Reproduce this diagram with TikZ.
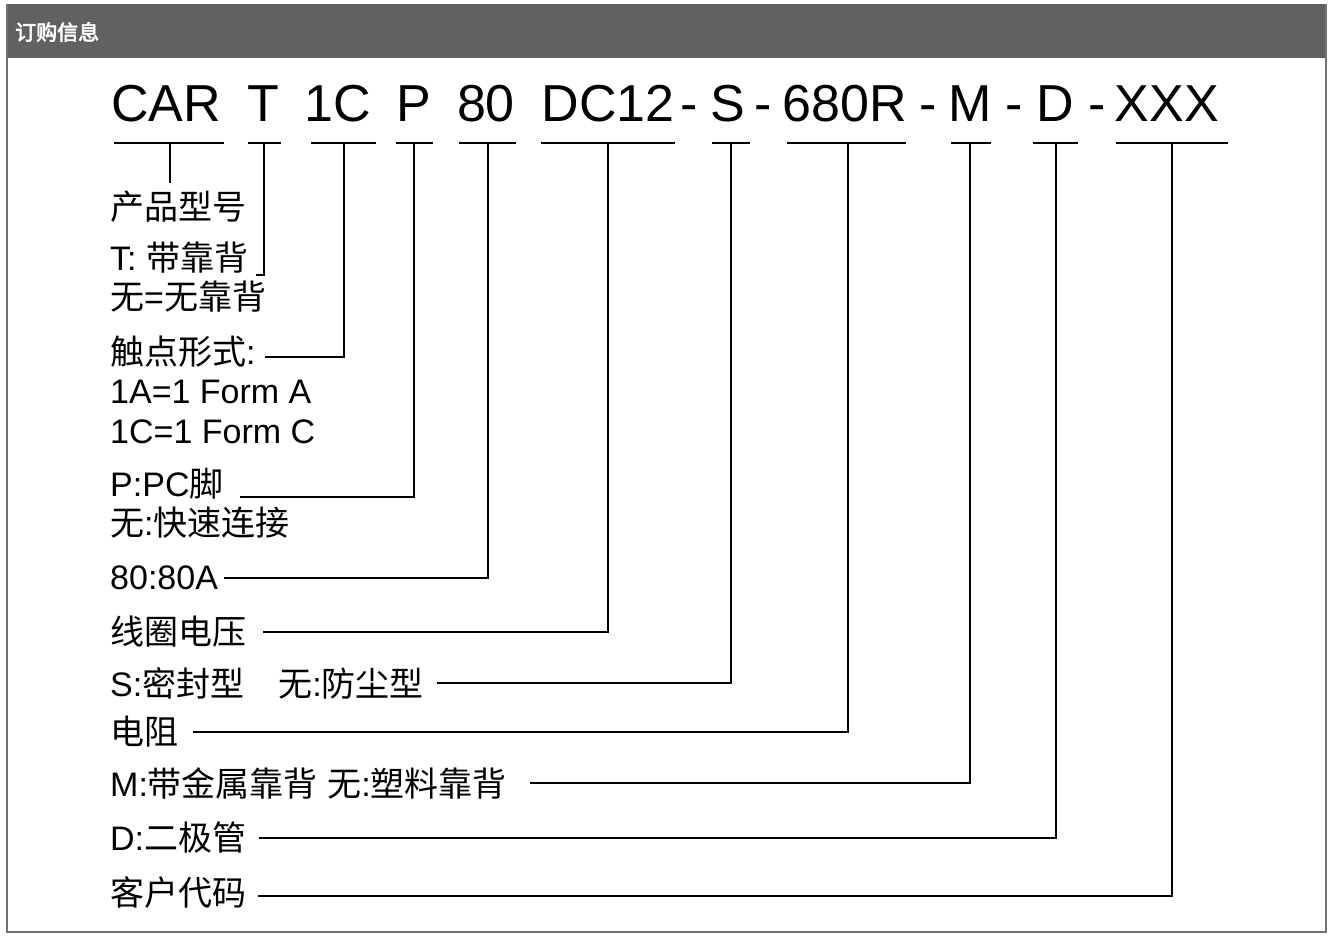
\documentclass[tikz,border=0pt]{standalone}
\usepackage{fontspec}
\setmainfont{Liberation Sans}
\newfontfamily\cjk{Noto Sans CJK SC}
\newfontfamily\cjkb[FakeBold=3]{Noto Sans CJK SC}
\begin{document}
\begin{tikzpicture}[x=1pt,y=-1pt,
  code/.style={font=\fontsize{52}{52}\selectfont,anchor=base,inner sep=0},
  lbl/.style={font=\fontsize{34}{36}\selectfont,anchor=west,inner sep=0,align=left},
  ln/.style={line width=1.6pt,black},
  ul/.style={line width=1.8pt,black}]
\useasboundingbox (0,0) rectangle (1331,936);
\fill[white] (0,0) rectangle (1331,936);
\fill[black!62] (7,4) rectangle (1326,58);
\draw[black!55,line width=1.5pt] (7,4) -- (7,932) -- (1326,932) -- (1326,4);
\node[anchor=west,text=white,font=\cjkb\fontsize{21}{21}\selectfont,inner sep=0] (title) at (15,32) {订购信息};
% code
\node[code] (c1) at (166,122) {CAR};
\node[code] (c2) at (263,122) {T};
\node[code] (c3) at (338,122) {1C};
\node[code] (c4) at (414,122) {P};
\node[code] (c5) at (486,122) {80};
\node[code] (c6) at (608,122) {DC12};
\node[code] (d1) at (689,122) {-};
\node[code] (c7) at (728,122) {S};
\node[code] (d2) at (763,122) {-};
\node[code] (c8) at (845,122) {680R};
\node[code] (d3) at (928,122) {-};
\node[code] (c9) at (970,122) {M};
\node[code] (d4) at (1014,122) {-};
\node[code] (c10) at (1055,122) {D};
\node[code] (d5) at (1097,122) {-};
\node[code] (c11) at (1167,122) {XXX};
% underlines
\foreach \n/\a/\b/\m in {u1/114/224/170,u2/248/281/264,u3/311/376/344,u4/396/433/414,u5/459/516/488,u6/541/675/608,u7/712/750/731,u8/787/906/848,u9/951/991/970,u10/1033/1078/1056,u11/1116/1228/1172}{
  \coordinate (\n a) at (\a,143); \coordinate (\n b) at (\b,143); \coordinate (\n) at (\m,143);
  \draw[ul] (\n a) -- (\n b);}
% labels
\node[lbl] (l1) at (110,207) {\cjk 产品型号};
\node[lbl] (l2) at (110,258) {T: {\cjk 带靠背}};
\node[lbl] (l2b) at (110,297) {{\cjk 无}={\cjk 无靠背}};
\node[lbl] (l3) at (110,352) {{\cjk 触点形式}:};
\node[lbl] (l3b) at (110,392) {1A=1 Form A};
\node[lbl] (l3c) at (110,432) {1C=1 Form C};
\node[lbl] (l4) at (110,484) {P:PC{\cjk 脚}};
\node[lbl] (l4b) at (110,523) {{\cjk 无}:{\cjk 快速连接}};
\node[lbl] (l5) at (110,578) {80:80A};
\node[lbl] (l6) at (110,632) {\cjk 线圈电压};
\node[lbl] (l7) at (110,683) {S:{\cjk 密封型}\quad{\cjk 无}:{\cjk 防尘型}};
\node[lbl] (l8) at (110,732) {\cjk 电阻};
\node[lbl] (l9) at (110,783) {M:{\cjk 带金属靠背}\ {\cjk 无}:{\cjk 塑料靠背}};
\node[lbl] (l10) at (110,838) {D:{\cjk 二极管}};
\node[lbl] (l11) at (110,893) {\cjk 客户代码};
\coordinate (e2) at (256,275);
\coordinate (e3) at (265,357);
\coordinate (e4) at (240,497);
\coordinate (e5) at (224,578);
\coordinate (e6) at (263,632);
\coordinate (e7) at (437,683);
\coordinate (e8) at (193,732);
\coordinate (e9) at (530,783);
\coordinate (e10) at (259,838);
\coordinate (e11) at (258,896);
% connectors
\draw[ln] (u1) -- (170,183);
\foreach \i in {2,...,11}{\draw[ln] (u\i) |- (e\i);}
\end{tikzpicture}
\end{document}
